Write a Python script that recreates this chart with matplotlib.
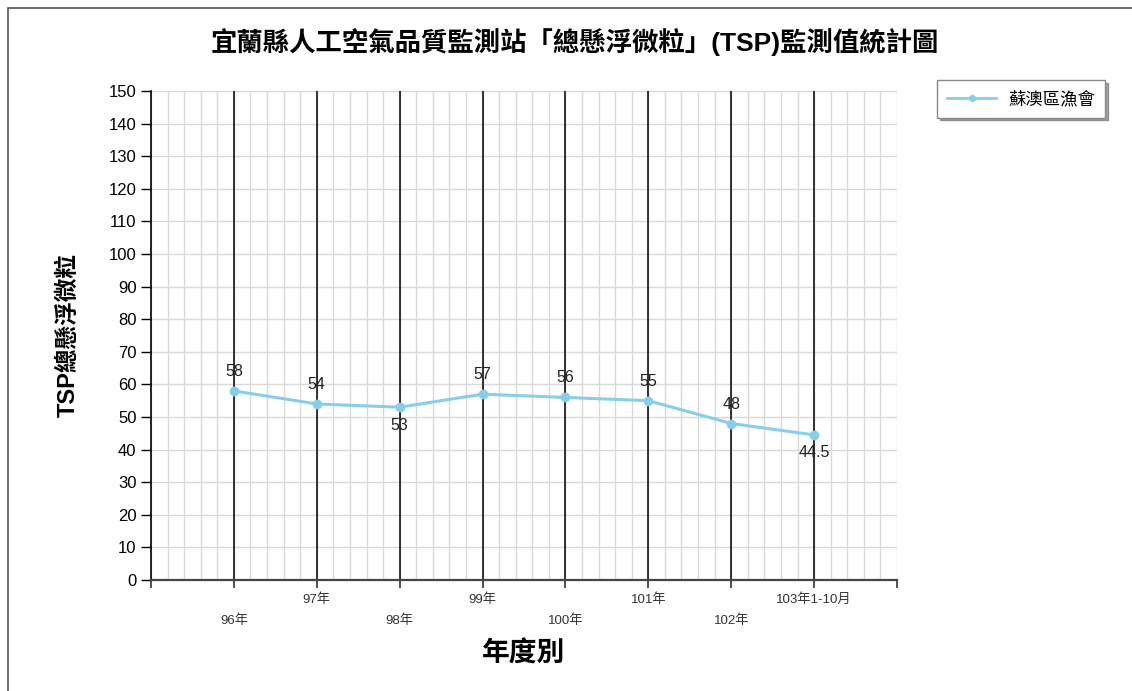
import matplotlib
matplotlib.use("Agg")
import matplotlib.pyplot as plt
from matplotlib.patches import Rectangle
import numpy as np

plt.rcParams["font.family"] = ["Liberation Sans", "Noto Sans CJK TC"]

# TSP annual values at the Su-ao fishery station
years = ["96年", "97年", "98年", "99年", "100年", "101年", "102年", "103年1-10月"]
tsp = [58, 54, 53, 57, 56, 55, 48, 44.5]
label_below = [False, False, True, False, False, False, False, True]
series_name = "蘇澳區漁會"

line_color = "#87CEEB"

fig = plt.figure(figsize=(11.32, 6.91), dpi=100)

# outer frame
fig.patches.append(Rectangle((8 / 1132, -0.05), 1.2, 1 - 8 / 691 + 0.05,
                             transform=fig.transFigure, fill=False,
                             edgecolor="#555555", linewidth=1.2))

ax = fig.add_axes([151 / 1132, 1 - 580 / 691, (897 - 151) / 1132, (580 - 91) / 691])

x = np.arange(1, len(years) + 1)

# grid: light minor verticals, black verticals at categories, light horizontals
for xm in np.arange(0, len(years) + 1.01, 0.2):
    ax.axvline(xm, color="#d9d9d9", linewidth=1, zorder=0)
for yv in range(0, 151, 10):
    ax.axhline(yv, color="#d9d9d9", linewidth=1, zorder=0)
for xv in x:
    ax.axvline(xv, color="black", linewidth=1.1, zorder=1)

ax.plot(x, tsp, color=line_color, linewidth=2.2, marker="o", markersize=6,
        label=series_name, zorder=3)

for xi, v, below in zip(x, tsp, label_below):
    txt = f"{v:g}"
    off = -13 if below else 14
    ax.annotate(txt, (xi, v), xytext=(0, off), textcoords="offset points",
                ha="center", va="center", fontsize=11.5, color="#222222", zorder=4)

ax.set_xlim(0, len(years) + 1)
ax.set_ylim(0, 150)
ax.set_yticks(range(0, 151, 10))
ax.set_xticks(range(0, len(years) + 2))
ax.set_xticklabels([])
ax.tick_params(axis="y", labelsize=12, length=7, width=1, colors="black")
ax.tick_params(axis="x", length=6, width=1.2, color="#333333")

for i, (xi, name) in enumerate(zip(x, years)):
    yoff = -0.04 if i % 2 == 1 else -0.083
    ax.text(xi, yoff, name, transform=ax.get_xaxis_transform(), ha="center",
            va="center", fontsize=9.5, color="#333333")

ax.spines["top"].set_visible(False)
ax.spines["right"].set_visible(False)
ax.spines["left"].set_color("black")
ax.spines["left"].set_linewidth(1.2)
ax.spines["bottom"].set_color("#444444")
ax.spines["bottom"].set_linewidth(1.6)

fig.text(575 / 1132, 1 - 42 / 691,
         "宜蘭縣人工空氣品質監測站「總懸浮微粒」(TSP)監測值統計圖",
         ha="center", va="center", fontsize=19, fontweight="bold")
fig.text(68 / 1132, 1 - 335 / 691, "TSP總懸浮微粒", rotation=90,
         ha="center", va="center", fontsize=17, fontweight="bold")
fig.text(524 / 1132, 1 - 655 / 691, "年度別", ha="center", va="center",
         fontsize=20, fontweight="bold")

leg = ax.legend(loc="upper left", bbox_to_anchor=(937 / 1132, 1 - 80 / 691),
                bbox_transform=fig.transFigure, frameon=True, fancybox=False,
                shadow=True, edgecolor="#888888", fontsize=12.5,
                handlelength=2.8, borderpad=0.6, borderaxespad=0,
                handletextpad=0.7, markerscale=0.7)
leg.get_frame().set_linewidth(1)
for h in leg.legend_handles:
    h.set_linewidth(2)

fig.savefig("out.png", dpi=100)
